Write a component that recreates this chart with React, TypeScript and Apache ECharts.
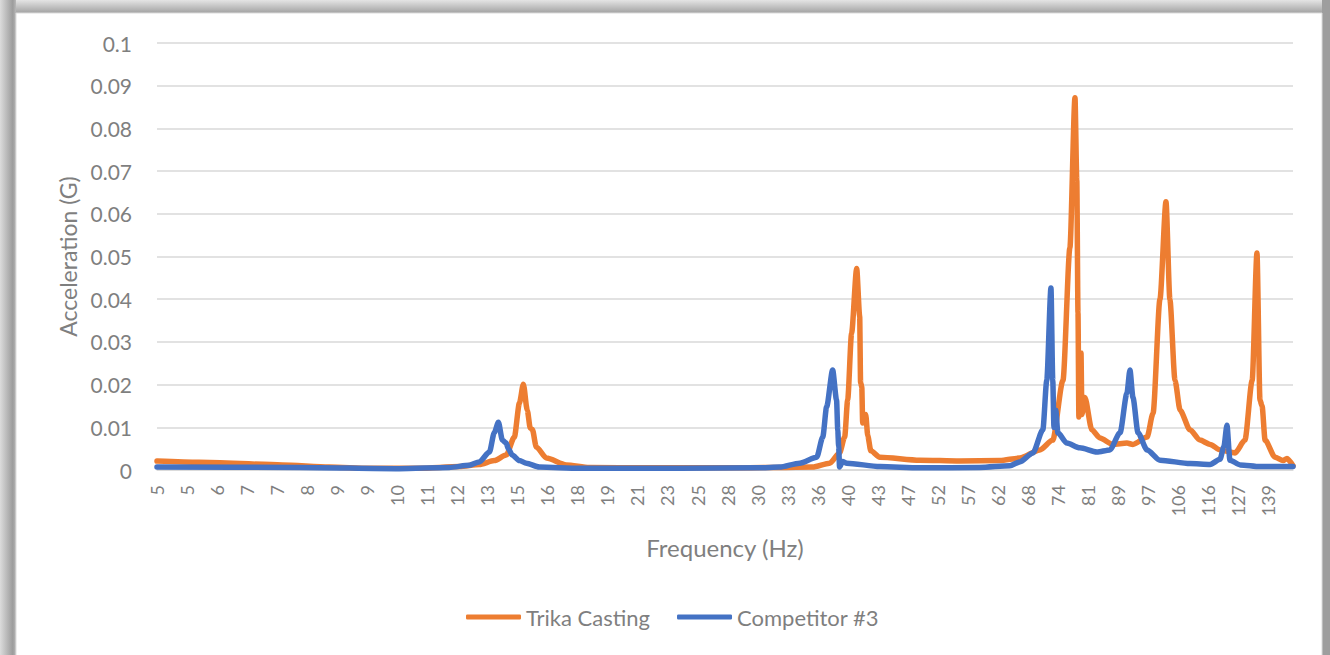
import React, { useEffect, useRef } from "react";
import * as echarts from "echarts";

// Frequency tick labels (Hz) shown along the category-like axis
const freqLabels: string[] = [
  "5", "5", "6", "7", "7", "8", "9", "9", "10", "11", "12", "13", "15", "16", "18", "19",
  "21", "23", "25", "28", "30", "33", "36", "40", "43", "47", "52", "57", "62", "68",
  "74", "81", "89", "97", "106", "116", "127", "139",
];

// positions are measured in label slots (0 = first label "5")
const trikaPos: number[] = [
  0, 1.4, 4.17, 5.73, 7.07, 8.73, 10.07, 10.73, 11.23, 11.63, 11.9, 12.07, 12.2, 12.33, 12.43,
  12.5, 12.63, 12.97, 13.63, 14.4, 16.4, 18.73, 20.73, 21.83, 22.4, 22.73, 22.9, 23.0, 23.13,
  23.3, 23.4, 23.43, 23.47, 23.5, 23.6, 23.67, 23.77, 24.07, 25.4, 26.73, 28.07, 28.73, 29.4,
  29.83, 30.17, 30.4, 30.57, 30.63, 30.67, 30.7, 30.77, 30.8, 30.9, 31.13, 31.4, 31.83, 32.3,
  32.5, 32.97, 33.17, 33.4, 33.6, 33.73, 33.9, 34.07, 34.4, 34.73, 35.07, 35.4, 35.9, 36.23,
  36.47, 36.63, 36.73, 36.8, 36.9, 37.23, 37.5, 37.63, 37.83,
];
const trikaAccel: number[] = [
  0.0021, 0.0018, 0.0012, 0.0007, 0.0004, 0.0004, 0.0008, 0.0013, 0.0022, 0.0035, 0.0077, 0.0157,
  0.0201, 0.014, 0.0098, 0.0095, 0.0054, 0.0028, 0.0012, 0.0006, 0.0005, 0.0005, 0.0006, 0.0007,
  0.0016, 0.004, 0.0077, 0.0164, 0.032, 0.0472, 0.036, 0.0205, 0.0195, 0.011, 0.013, 0.008,
  0.0045, 0.003, 0.0023, 0.0021, 0.0022, 0.0028, 0.0047, 0.007, 0.021, 0.052, 0.0872, 0.068,
  0.0368, 0.0124, 0.0274, 0.013, 0.017, 0.0094, 0.0075, 0.006, 0.0063, 0.006, 0.0077, 0.0133,
  0.04, 0.0628, 0.04, 0.021, 0.014, 0.0094, 0.007, 0.006, 0.0047, 0.004, 0.007, 0.021, 0.0508,
  0.0164, 0.015, 0.007, 0.003, 0.0022, 0.0027, 0.001,
];

const competitorPos: number[] = [
  0, 4.73, 8.07, 9.73, 10.4, 10.73, 11.07, 11.23, 11.37, 11.5, 11.63, 11.7, 11.83, 12.07, 12.3,
  12.73, 14.07, 17.4, 20.07, 20.73, 21.4, 21.97, 22.17, 22.3, 22.5, 22.63, 22.67, 22.7, 22.73,
  22.83, 22.97, 24.07, 25.4, 27.4, 28.4, 28.73, 29.17, 29.5, 29.63, 29.77, 29.83, 29.87, 29.93,
  30.0, 30.3, 30.73, 31.3, 31.73, 32.07, 32.3, 32.4, 32.5, 32.67, 32.97, 33.4, 34.4, 35.07,
  35.4, 35.53, 35.63, 35.73, 36.07, 36.73, 37.83,
];
const competitorAccel: number[] = [
  0.0007, 0.0006, 0.0003, 0.0006, 0.0011, 0.0019, 0.0042, 0.0087, 0.0112, 0.007, 0.0063, 0.005,
  0.0035, 0.0022, 0.0016, 0.0007, 0.0004, 0.0004, 0.0005, 0.0007, 0.0016, 0.003, 0.0077, 0.0148,
  0.0234, 0.0164, 0.0094, 0.0055, 0.0007, 0.002, 0.0016, 0.0008, 0.0005, 0.0006, 0.001, 0.0019,
  0.004, 0.0094, 0.021, 0.0426, 0.021, 0.01, 0.014, 0.0087, 0.0063, 0.0052, 0.0042, 0.0047,
  0.0087, 0.018, 0.0234, 0.017, 0.0087, 0.0047, 0.0023, 0.0015, 0.0013, 0.0025, 0.0055, 0.0105,
  0.0023, 0.0012, 0.0008, 0.0008,
];

const seriesNames = ["Trika Casting", "Competitor #3"];
const seriesColors = ["#ED7D31", "#4472C4"];

const FONT = "Lato, 'Open Sans', sans-serif";
const GRAY = "#7f7f7f";

export default function App() {
  const ref = useRef<HTMLDivElement>(null);
  useEffect(() => {
    if (!ref.current) return;
    const chart = echarts.init(ref.current, undefined, { renderer: "svg" });
    const zip = (xs: number[], ys: number[]) => xs.map((x, i) => [x, ys[i]]);
    chart.setOption({
      animation: false,
      backgroundColor: "#ffffff",
      textStyle: { fontFamily: FONT },
      graphic: [
        {
          type: "rect", z: -10, silent: true,
          shape: { x: 0, y: 0, width: 1330, height: 13 },
          style: { fill: new echarts.graphic.LinearGradient(0, 0, 0, 1, [
            { offset: 0, color: "#e4e4e4" }, { offset: 1, color: "#a2a2a2" }]) },
        },
        {
          type: "rect", z: -10, silent: true,
          shape: { x: 0, y: 0, width: 16, height: 655 },
          style: { fill: new echarts.graphic.LinearGradient(0, 0, 1, 0, [
            { offset: 0, color: "#dcdcdc" }, { offset: 0.8, color: "#9c9c9c" }, { offset: 1, color: "#b8b8b8" }]) },
        },
        {
          type: "rect", z: -10, silent: true,
          shape: { x: 1322, y: 0, width: 8, height: 655 },
          style: { fill: "#9e9e9e" },
        },
        {
          type: "rect", z: -9, silent: true,
          shape: { x: 16, y: 13, width: 1306, height: 660 },
          style: { fill: "#ffffff", stroke: "#dcdcdc", lineWidth: 1 },
        },
      ],
      grid: { left: 157, right: 37, top: 43, bottom: 185 },
      legend: {
        left: 466, top: 606, padding: 0,
        itemWidth: 55, itemHeight: 5, itemGap: 27,
        icon: "roundRect",
        textStyle: { fontSize: 22, color: GRAY, fontFamily: FONT },
        data: seriesNames,
      },
      xAxis: {
        type: "value",
        min: 0, max: 37.83, interval: 1,
        name: "Frequency (Hz)", nameLocation: "middle", nameGap: 65,
        nameTextStyle: { fontSize: 24, color: GRAY, fontFamily: FONT },
        axisLine: { show: true, onZero: false, lineStyle: { color: "#d9d9d9", width: 1.5 } },
        axisTick: { show: false },
        splitLine: { show: false },
        axisLabel: {
          rotate: 90, fontSize: 18, color: GRAY, margin: 15, fontFamily: FONT,
          showMaxLabel: false,
          formatter: (v: number) => freqLabels[Math.round(v)] ?? "",
        },
      },
      yAxis: {
        type: "value",
        min: 0, max: 0.1, interval: 0.01,
        name: "Acceleration (G)", nameLocation: "middle", nameGap: 78,
        nameTextStyle: { fontSize: 23, color: GRAY, fontFamily: FONT },
        axisLine: { show: false },
        axisTick: { show: false },
        splitLine: { lineStyle: { color: "#d9d9d9", width: 1.5 } },
        axisLabel: {
          fontSize: 21, color: GRAY, margin: 25, fontFamily: FONT,
          formatter: (v: number) => String(Math.round(v * 100) / 100),
        },
      },
      series: [
        {
          name: seriesNames[0], type: "line", data: zip(trikaPos, trikaAccel),
          symbol: "none", smooth: 0.25, smoothMonotone: "x",
          lineStyle: { color: seriesColors[0], width: 5.5, cap: "round", join: "round" },
          itemStyle: { color: seriesColors[0] },
        },
        {
          name: seriesNames[1], type: "line", data: zip(competitorPos, competitorAccel),
          symbol: "none", smooth: 0.25, smoothMonotone: "x",
          lineStyle: { color: seriesColors[1], width: 5.5, cap: "round", join: "round" },
          itemStyle: { color: seriesColors[1] },
        },
      ],
    });
    return () => chart.dispose();
  }, []);
  return (
    <div
      ref={ref}
      style={{ position: "absolute", left: 0, top: 0, width: 1330, height: 655 }}
    />
  );
}
